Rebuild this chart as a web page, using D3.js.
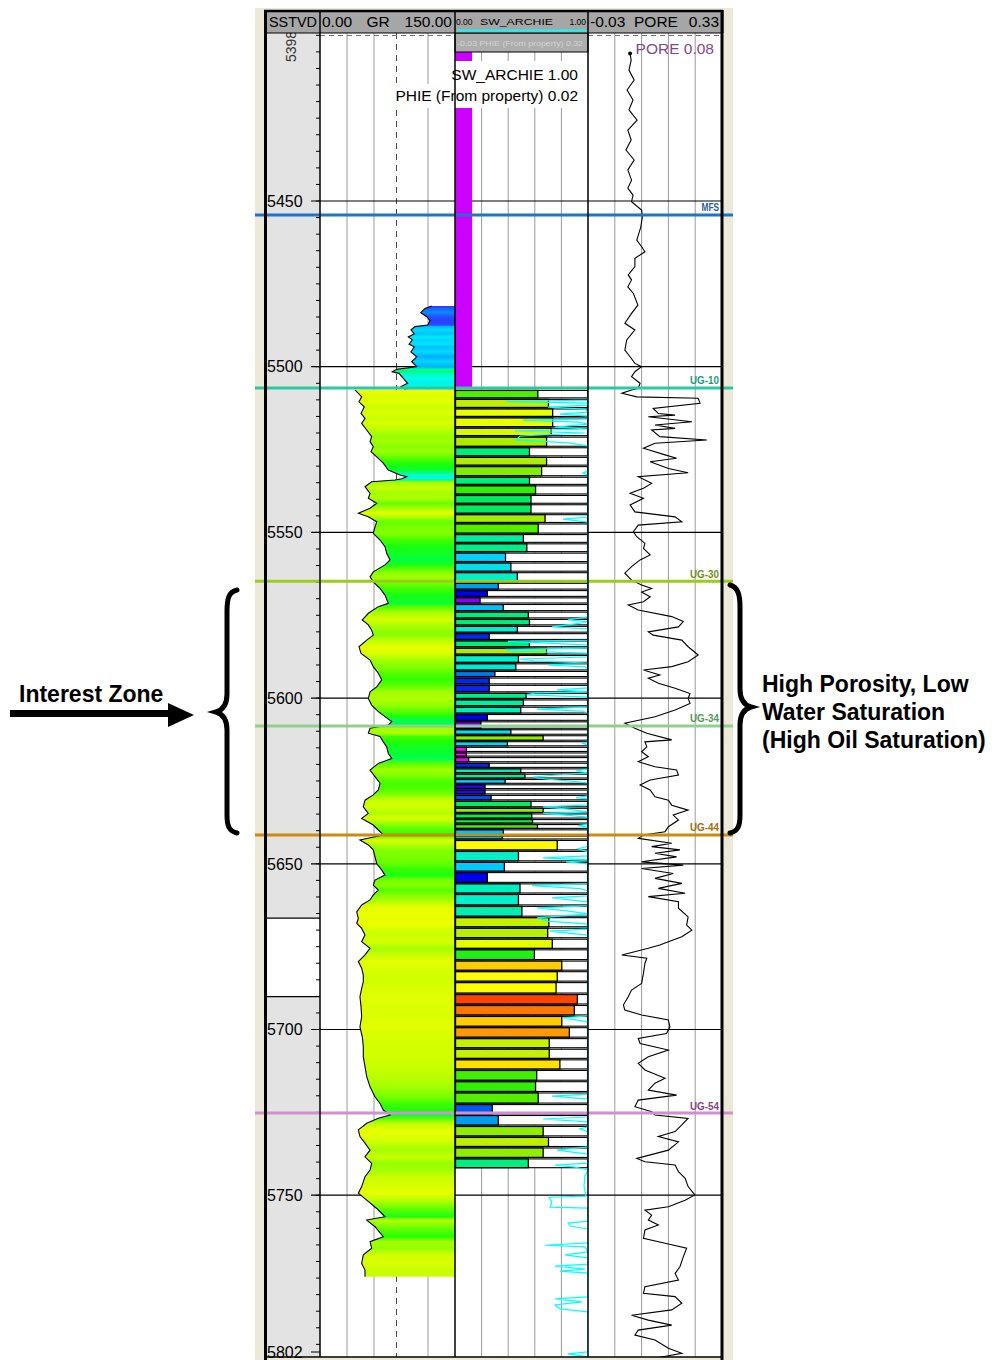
<!DOCTYPE html>
<html><head><meta charset="utf-8">
<script src="https://cdn.jsdelivr.net/npm/d3@7"></script>
<style>body{margin:0;background:#fff;} svg{display:block;font-family:"Liberation Sans",Arial,sans-serif;}</style>
</head><body>
<svg id="chart" width="1002" height="1360"></svg>
<script>
// ---------------- DATA ----------------
const depthLabels = [5450,5500,5550,5600,5650,5700,5750];
const topDepthText = "5398", bottomDepthText = "5802";
const whiteInterval = [5666.4, 5690.1];

const topNames  = ["MFS","UG-10","UG-30","UG-34","UG-44","UG-54"];
const topDepths = [5454.2, 5506.4, 5564.7, 5608.4, 5641.3, 5725.2];

// GR (depth, API)
const grUpper = [[5481.7,124.1],[5482.4,116.7],[5483.7,111.9],[5484.9,118.6],[5486.1,122.2],[5487.4,119.7],[5487.9,105.6],[5488.9,101.1],[5490.1,104.8],[5491.0,98.1],[5491.9,102.6],[5493.2,98.9],[5494.0,104.8],[5495.5,101.1],[5497.0,107.4],[5498.5,101.9],[5500.0,107.4],[5500.8,85.2],[5501.5,80.3],[5502.0,87.8],[5503.5,92.6],[5505.0,97.4],[5506.0,90.0],[5506.9,95.0]];
const grLowerDepth = [5507.0,5509.1,5510.6,5512.1,5514.1,5515.6,5517.1,5519.1,5521.1,5522.6,5524.1,5525.6,5527.2,5529.1,5531.2,5532.7,5533.2,5533.8,5534.2,5534.7,5536.2,5538.2,5539.7,5541.2,5542.7,5544.2,5545.3,5546.8,5548.3,5550.3,5552.3,5554.3,5556.3,5558.3,5559.8,5561.9,5563.4,5564.9,5566.9,5568.9,5571.4,5572.4,5574.4,5576.4,5577.9,5579.5,5581.0,5582.5,5584.5,5586.5,5588.5,5590.5,5592.5,5594.5,5596.6,5598.1,5600.1,5602.1,5604.1,5605.6,5607.1,5608.1,5609.1,5610.6,5611.6,5613.2,5614.7,5616.7,5618.2,5619.7,5621.7,5623.7,5625.7,5627.7,5629.2,5630.8,5632.8,5634.8,5636.3,5638.3,5639.8,5641.3,5642.8,5644.3,5645.8,5647.9,5649.9,5651.9,5653.4,5654.9,5656.4,5657.9,5659.4,5660.9,5662.4,5664.5,5666.5,5668.0,5669.5,5671.5,5673.5,5675.5,5677.5,5679.5,5681.5,5683.6,5685.6,5687.6,5690.1,5693.1,5696.1,5699.2,5702.2,5705.2,5708.2,5711.2,5714.2,5717.3,5720.3,5722.3,5724.3,5725.8,5726.8,5728.3,5730.3,5732.3,5734.3,5736.4,5738.4,5740.4,5742.4,5744.4,5747.4,5749.4,5751.5,5754.0,5756.5,5757.5,5759.5,5762.5,5764.0,5766.0,5768.0,5770.6,5772.6,5774.6];
const grLowerValue = [38.9,46.3,43.3,49.2,45.6,50.0,46.3,51.9,57.4,55.6,59.2,56.7,63.0,70.3,75.9,88.9,96.3,90.8,83.3,57.4,50.0,55.6,53.7,63.0,55.6,42.6,53.7,63.0,61.1,59.2,66.7,72.2,74.1,77.8,72.2,59.2,55.6,59.2,66.7,72.2,75.9,64.8,53.7,47.0,53.7,57.4,59.2,51.9,43.3,45.6,55.6,59.2,64.8,68.6,63.0,55.6,53.7,57.4,64.8,72.2,79.7,75.9,55.6,53.7,66.7,70.3,74.1,75.9,79.7,64.8,55.6,61.1,66.7,64.8,59.2,50.0,48.1,53.7,46.3,59.2,64.8,70.3,44.4,53.7,59.2,61.1,63.0,68.6,72.2,61.1,59.2,64.8,59.2,55.6,46.3,40.8,42.6,40.8,46.3,50.0,46.3,55.6,50.0,42.6,46.3,48.1,48.1,46.3,44.4,45.6,46.3,44.4,47.0,48.1,48.1,50.0,51.9,55.6,61.1,66.7,70.3,77.8,64.8,51.9,42.6,44.4,50.0,55.6,50.0,57.4,55.6,50.0,46.3,42.6,51.9,63.0,72.2,51.9,61.1,70.3,55.6,57.4,48.1,46.3,50.0,50.0];
const grCutoff = 85;

// PHIE upper single cell and layer cells (tops incl. final base)
const phieUpperCell = {top:5405.0, base:5506.4, value:0.015};
const layerTops = [5507.0,5509.7,5512.6,5515.3,5518.4,5521.1,5524.3,5527.2,5530.0,5533.2,
5535.8,5538.7,5541.5,5544.5,5547.3,5550.5,5553.3,5556.1,5559.1,5562.0,
5565.2,5567.4,5569.6,5571.6,5573.9,5576.1,5578.2,5580.4,5582.6,5584.8,
5587.0,5589.5,5591.8,5593.8,5596.0,5598.4,5600.4,5602.6,5604.8,5607.0,
5609.4,5611.2,5613.0,5614.7,5616.4,5617.8,5619.5,5621.2,5622.8,5624.4,
5626.0,5627.6,5629.2,5631.0,5633.1,5634.8,5636.5,5638.0,5639.6,5641.5,
5642.8,5646.1,5649.4,5652.5,5655.9,5659.1,5662.7,5666.1,5669.3,5672.6,
5675.8,5679.2,5682.4,5685.7,5689.3,5692.6,5695.9,5699.3,5702.6,5705.8,
5709.0,5712.2,5715.6,5719.0,5722.5,5725.8,5729.1,5732.4,5735.6,5738.9,
5742.0];
const layerPhie = [0.188,0.216,0.227,0.227,0.223,0.211,0.166,0.211,0.198,0.166,
0.182,0.170,0.170,0.207,0.189,0.150,0.159,0.103,0.117,0.134,
0.084,0.055,0.036,0.097,0.163,0.166,0.134,0.060,0.166,0.211,
0.137,0.130,0.075,0.060,0.060,0.157,0.150,0.143,0.055,0.038,
0.117,0.202,0.108,0.000,0.000,0.006,0.060,0.143,0.154,0.102,
0.049,0.049,0.065,0.170,0.202,0.172,0.174,0.187,0.097,0.094,
0.239,0.137,0.100,0.055,0.141,0.137,0.146,0.217,0.214,0.226,
0.179,0.251,0.239,0.236,0.292,0.284,0.251,0.271,0.218,0.218,
0.246,0.185,0.182,0.189,0.068,0.084,0.202,0.216,0.202,0.163];

// SW_ARCHIE (depth, fraction)
const swArchie = [[5507.6,1],[5510.1,1],[5510.5,0.383],[5511.0,1],[5511.6,1],[5512.2,0.699],[5512.8,0.977],[5513.7,1],[5514.3,0.789],[5514.9,1],[5515.8,1],[5516.1,0.511],[5516.7,0.925],[5517.3,1],[5518.2,0.752],[5518.8,1],[5519.4,0.451],[5520.0,0.977],[5520.9,0.489],[5522.1,0.459],[5523.0,0.85],[5523.9,1],[5531.5,1],[5532.1,0.962],[5532.7,1],[5545.4,1],[5546.0,0.812],[5546.9,1],[5575.5,1],[5576.4,0.85],[5577.0,1],[5577.6,0.902],[5578.5,0.729],[5579.1,1],[5582.5,1],[5582.9,0.398],[5583.4,0.699],[5584.0,1],[5584.9,1],[5585.3,0.376],[5585.8,0.451],[5586.4,1],[5587.6,1],[5588.2,0.489],[5588.8,0.602],[5589.4,1],[5590.0,0.699],[5590.6,0.977],[5591.2,1],[5596.9,1],[5597.5,0.767],[5598.1,1],[5598.4,0.602],[5599.0,0.541],[5599.7,1],[5602.7,1],[5603.3,0.617],[5603.9,0.955],[5604.5,1],[5613.2,1],[5613.7,0.962],[5614.2,1],[5621.4,1],[5622.0,0.91],[5622.6,1],[5623.2,0.767],[5623.8,0.586],[5624.4,0.677],[5625.0,0.85],[5625.6,1],[5629.5,1],[5630.0,0.91],[5630.4,1],[5632.2,1],[5632.8,0.662],[5633.5,0.85],[5634.4,1],[5634.7,0.662],[5635.3,0.827],[5635.9,1],[5638.0,1],[5638.5,0.925],[5638.9,1],[5644.7,1],[5645.5,0.925],[5646.4,1],[5647.6,1],[5648.2,0.662],[5648.8,1],[5649.4,0.835],[5650.0,1],[5656.0,1],[5656.6,0.579],[5657.5,0.94],[5658.2,1],[5659.7,1],[5660.3,0.729],[5661.5,1],[5662.7,1],[5663.3,0.617],[5664.2,0.842],[5665.1,1],[5666.3,0.617],[5667.3,0.699],[5668.2,1],[5669.7,1],[5670.3,0.714],[5671.5,1],[5695.9,1],[5696.5,0.812],[5697.7,1],[5719.5,1],[5720.1,0.729],[5721.0,1],[5726.4,1],[5727.0,0.662],[5727.9,1],[5729.4,1],[5730.0,0.94],[5730.9,1],[5735.4,1],[5736.4,0.767],[5737.6,1],[5740.3,1],[5740.9,0.752],[5741.5,0.902],[5742.4,1],[5744.2,0.977],[5747.2,0.97],[5750.3,0.985],[5750.6,0.707],[5752.1,0.729],[5753.6,0.714],[5753.9,1],[5757.8,1],[5758.4,0.85],[5759.3,0.865],[5760.2,1],[5764.4,1],[5765.1,0.677],[5765.6,0.977],[5767.1,1],[5768.0,0.827],[5768.9,1],[5770.8,1],[5771.4,0.752],[5772.3,0.977],[5772.9,0.789],[5773.5,1],[5780.7,1],[5781.3,0.752],[5782.2,0.955],[5783.1,0.752],[5784.3,0.789],[5785.2,1],[5797.3,1],[5797.9,0.85],[5798.8,1]];

// PORE (depth, fraction)
const pore = [[5405.5,0.083],[5407.5,0.086],[5410.5,0.080],[5413.5,0.094],[5416.5,0.075],[5419.5,0.091],[5422.5,0.080],[5425.6,0.102],[5428.6,0.077],[5431.6,0.086],[5434.6,0.072],[5437.6,0.094],[5440.6,0.077],[5443.7,0.087],[5446.1,0.077],[5448.2,0.091],[5450.2,0.087],[5452.7,0.114],[5454.7,0.116],[5457.8,0.112],[5461.8,0.101],[5463.8,0.114],[5465.3,0.123],[5467.3,0.096],[5469.8,0.096],[5472.3,0.078],[5473.8,0.087],[5475.9,0.077],[5477.9,0.092],[5481.4,0.104],[5483.9,0.087],[5486.9,0.069],[5488.9,0.096],[5491.9,0.074],[5495.0,0.069],[5497.0,0.083],[5499.0,0.096],[5500.0,0.114],[5501.5,0.096],[5503.0,0.087],[5505.0,0.110],[5506.5,0.105],[5507.0,0.087],[5508.0,0.061],[5509.1,0.101],[5509.5,0.266],[5511.0,0.271],[5512.6,0.145],[5514.1,0.159],[5514.6,0.204],[5515.1,0.132],[5516.6,0.249],[5517.6,0.150],[5518.6,0.204],[5519.1,0.141],[5521.1,0.163],[5522.1,0.289],[5523.1,0.150],[5524.6,0.119],[5526.6,0.177],[5527.6,0.208],[5528.7,0.137],[5530.7,0.186],[5532.0,0.239],[5533.2,0.105],[5535.2,0.141],[5536.7,0.119],[5538.2,0.083],[5539.7,0.119],[5541.7,0.083],[5543.8,0.096],[5545.3,0.204],[5546.8,0.222],[5547.8,0.105],[5549.8,0.092],[5551.3,0.101],[5553.3,0.123],[5554.8,0.119],[5556.8,0.137],[5558.3,0.110],[5560.3,0.087],[5562.3,0.069],[5564.4,0.087],[5565.9,0.114],[5566.9,0.141],[5568.0,0.114],[5569.4,0.137],[5570.9,0.119],[5571.9,0.078],[5573.4,0.105],[5575.4,0.195],[5576.9,0.226],[5578.5,0.213],[5580.0,0.132],[5581.0,0.145],[5582.5,0.222],[5584.5,0.239],[5587.0,0.266],[5589.0,0.239],[5590.5,0.195],[5591.5,0.119],[5593.0,0.163],[5594.0,0.132],[5595.5,0.159],[5597.0,0.204],[5598.6,0.244],[5600.1,0.239],[5601.6,0.244],[5603.6,0.204],[5605.6,0.150],[5607.6,0.069],[5609.1,0.096],[5610.6,0.128],[5612.6,0.195],[5613.2,0.123],[5614.7,0.128],[5616.2,0.114],[5617.7,0.132],[5619.2,0.105],[5620.7,0.150],[5621.7,0.208],[5623.2,0.213],[5624.7,0.137],[5626.2,0.110],[5627.7,0.137],[5629.8,0.150],[5630.8,0.186],[5632.3,0.195],[5633.8,0.239],[5635.3,0.199],[5636.8,0.213],[5638.8,0.186],[5640.3,0.177],[5641.3,0.119],[5642.3,0.105],[5643.8,0.195],[5644.8,0.141],[5645.8,0.217],[5646.8,0.150],[5647.9,0.208],[5649.4,0.114],[5650.4,0.226],[5651.4,0.114],[5652.9,0.199],[5654.4,0.150],[5655.9,0.222],[5657.4,0.159],[5658.9,0.231],[5659.9,0.132],[5661.4,0.213],[5663.4,0.213],[5666.0,0.239],[5668.5,0.235],[5670.0,0.249],[5672.0,0.222],[5673.5,0.186],[5674.5,0.163],[5675.5,0.132],[5677.5,0.061],[5678.5,0.128],[5680.0,0.123],[5683.0,0.119],[5686.1,0.114],[5688.1,0.087],[5690.1,0.078],[5692.6,0.065],[5694.1,0.069],[5695.6,0.114],[5697.1,0.186],[5699.2,0.190],[5701.2,0.181],[5702.7,0.105],[5704.2,0.110],[5706.2,0.186],[5708.2,0.132],[5710.2,0.105],[5712.2,0.123],[5714.7,0.177],[5716.2,0.150],[5718.3,0.132],[5719.8,0.208],[5721.3,0.105],[5723.3,0.096],[5724.8,0.141],[5725.8,0.150],[5726.8,0.239],[5728.8,0.222],[5730.8,0.204],[5732.3,0.159],[5733.9,0.213],[5736.4,0.186],[5738.9,0.101],[5739.9,0.123],[5740.9,0.204],[5742.9,0.213],[5744.9,0.231],[5747.4,0.239],[5749.9,0.257],[5751.5,0.231],[5753.5,0.186],[5754.5,0.123],[5756.0,0.141],[5757.5,0.132],[5759.0,0.159],[5760.5,0.123],[5763.0,0.119],[5764.5,0.177],[5766.0,0.235],[5768.6,0.226],[5771.6,0.217],[5773.6,0.204],[5775.6,0.213],[5777.6,0.123],[5779.6,0.119],[5780.6,0.204],[5782.6,0.222],[5784.6,0.195],[5786.2,0.087],[5787.7,0.132],[5789.2,0.195],[5790.7,0.105],[5792.2,0.096],[5793.7,0.150],[5796.2,0.186],[5797.7,0.222],[5799.2,0.150]];

// ---------------- STYLE / LAYOUT ----------------
const topLineColors  = ["#1c74cc","#2ec8a0","#9acd1a","#8fd08f","#cc8a10","#d090d0"];
const topLabelColors = ["#2a5d9a","#1e9c7a","#6f8f1e","#4f9a4f","#a26c0a","#8a3f8a"];
const grColor = d3.scaleLinear()
  .domain([38,45,50,56,62,70,78,86,94,102,110,118,124])
  .range(["#f4ff00","#dfff00","#c8ff00","#a0ff00","#70ff00","#22ff00","#00ff44","#00ffb0","#00ffee","#00d8ff","#0099ff","#2255ff","#3333ff"])
  .clamp(true);
const phieColor = d3.scaleLinear()
  .domain([0.0,0.036,0.055,0.065,0.085,0.102,0.135,0.152,0.166,0.172,0.182,0.20,0.215,0.227,0.238,0.251,0.271,0.284,0.292])
  .range(["#ff00ff","#8800ff","#0000ee","#0050ee","#00a0ee","#00d0ff","#00f0d0","#00ee99","#00ee77","#00ee50","#33ee00","#88ee00","#bbee00","#e8ff00","#ffff00","#ffcc00","#ff9900","#ff7700","#ff4400"])
  .clamp(true);

const svg = d3.select("#chart");
const defs = svg.append("defs");
const TR = {depth:[265,320], gr:[320,455], sw:[455,588], pore:[588,722]};
const Y0 = 33, Y1 = 1357;

const y = d3.scaleLinear().domain([5399.3, 5799]).range([33, 1357.6]);
const xGR = d3.scaleLinear().domain([0,150]).range(TR.gr);
const xPHIE = d3.scaleLinear().domain([-0.03,0.32]).range(TR.sw);
const xSW = d3.scaleLinear().domain([0,1]).range(TR.sw);
const xPORE = d3.scaleLinear().domain([-0.03,0.33]).range(TR.pore);

function clip(id, x0, x1){
  defs.append("clipPath").attr("id",id).append("rect").attr("x",x0).attr("y",Y0).attr("width",x1-x0).attr("height",Y1-Y0);
}
clip("cGR",...TR.gr); clip("cSW",...TR.sw); clip("cPORE",...TR.pore);

// panel background
svg.append("rect").attr("x",255).attr("y",8).attr("width",478).attr("height",1352).attr("fill","#ece9d8");
svg.append("rect").attr("x",TR.depth[0]).attr("y",Y0).attr("width",55).attr("height",Y1-Y0).attr("fill","#e3e3e3");
svg.append("rect").attr("x",320).attr("y",Y0).attr("width",402).attr("height",Y1-Y0).attr("fill","#fff");
// white interval in depth track
svg.append("rect").attr("x",265).attr("y",y(whiteInterval[0])).attr("width",55)
  .attr("height",y(whiteInterval[1])-y(whiteInterval[0])).attr("fill","#fff");
whiteInterval.forEach(d=>svg.append("line").attr("x1",265).attr("x2",320).attr("y1",y(d)).attr("y2",y(d)).attr("stroke","#000").attr("stroke-width",1.2));

// vertical grid
const grid = svg.append("g").attr("stroke","#9a9a9a").attr("stroke-width",1);
[30,60,120].forEach(v=>grid.append("line").attr("x1",xGR(v)).attr("x2",xGR(v)).attr("y1",Y0).attr("y2",Y1));
[0.2,0.4,0.6,0.8].forEach(v=>grid.append("line").attr("x1",xSW(v)).attr("x2",xSW(v)).attr("y1",Y0).attr("y2",Y1));
[0.042,0.114,0.186,0.258].forEach(v=>grid.append("line").attr("x1",xPORE(v)).attr("x2",xPORE(v)).attr("y1",Y0).attr("y2",Y1));
svg.append("line").attr("x1",xGR(grCutoff)).attr("x2",xGR(grCutoff)).attr("y1",Y0).attr("y2",Y1)
  .attr("stroke","#444").attr("stroke-width",1).attr("stroke-dasharray","6,5");
// dashed top line
[[320,455],[588,722]].forEach(r=>svg.append("line").attr("x1",r[0]).attr("x2",r[1]).attr("y1",35.5).attr("y2",35.5)
  .attr("stroke","#777").attr("stroke-width",1).attr("stroke-dasharray","5,4"));

// depth ticks and major lines
d3.range(5400,5800,5).forEach(d=>{
  svg.append("line").attr("x1",316).attr("x2",320).attr("y1",y(d)).attr("y2",y(d)).attr("stroke","#000");
});
depthLabels.forEach(d=>{
  svg.append("line").attr("x1",311).attr("x2",722).attr("y1",y(d)).attr("y2",y(d)).attr("stroke","#000").attr("stroke-width",1.2);
  svg.append("text").attr("x",267).attr("y",y(d)).attr("dy","0.36em").attr("font-size",16).attr("fill","#000").text(d);
});
svg.append("text").attr("transform",`translate(296,62) rotate(-90)`).attr("font-size",14).attr("fill","#333").text(topDepthText);
svg.append("line").attr("x1",311).attr("x2",320).attr("y1",1352).attr("y2",1352).attr("stroke","#000");
svg.append("text").attr("x",267).attr("y",1352).attr("dy","0.36em").attr("font-size",16).text(bottomDepthText);

// GR fills
const grLower = grLowerDepth.map((d,i)=>[d,grLowerValue[i]]);
function grFill(pts,id){
  const ya=y(pts[0][0]), yb=y(pts[pts.length-1][0]);
  const g = defs.append("linearGradient").attr("id",id).attr("gradientUnits","userSpaceOnUse")
    .attr("x1",0).attr("x2",0).attr("y1",ya).attr("y2",yb);
  pts.forEach(p=>g.append("stop").attr("offset",(y(p[0])-ya)/(yb-ya)).attr("stop-color",grColor(p[1])));
  const area = d3.area().y(p=>y(p[0])).x0(p=>xGR(p[1])).x1(xGR(150));
  const gg = svg.append("g").attr("clip-path","url(#cGR)");
  gg.append("path").attr("d",area(pts)).attr("fill",`url(#${id})`);
  gg.append("path").attr("d",d3.line().x(p=>xGR(p[1])).y(p=>y(p[0]))(pts)).attr("fill","none").attr("stroke","#000").attr("stroke-width",1.1);
}
grFill(grUpper,"gU"); grFill(grLower,"gL");

// PHIE upper cell
svg.append("rect").attr("x",xPHIE(-0.03)).attr("y",y(phieUpperCell.top))
  .attr("width",xPHIE(phieUpperCell.value)-xPHIE(-0.03)).attr("height",y(phieUpperCell.base)-y(phieUpperCell.top))
  .attr("fill","#cc00ff");

// layer cells
const cells = svg.append("g");
layerPhie.forEach((v,i)=>{
  const t=y(layerTops[i])+0.5, b=y(layerTops[i+1])-1;
  cells.append("rect").attr("x",455.5).attr("y",t).attr("width",132).attr("height",b-t)
    .attr("fill","#fff").attr("stroke","#000").attr("stroke-width",1.1);
  cells.append("rect").attr("x",455.5).attr("y",t).attr("width",Math.max(0,xPHIE(v)-455.5)).attr("height",b-t)
    .attr("fill",phieColor(v)).attr("stroke","#000").attr("stroke-width",1.3);
});

// SW curve
svg.append("g").attr("clip-path","url(#cSW)").append("path")
  .attr("d",d3.line().x(p=>xSW(Math.min(1,p[1]))).y(p=>y(p[0]))(swArchie))
  .attr("fill","none").attr("stroke","#00ffff").attr("stroke-width",1.2);

// PORE curve
svg.append("g").attr("clip-path","url(#cPORE)").append("path")
  .attr("d",d3.line().x(p=>xPORE(p[1])).y(p=>y(p[0]))(pore))
  .attr("fill","none").attr("stroke","#000").attr("stroke-width",1.1);
svg.append("circle").attr("cx",xPORE(pore[0][1])).attr("cy",y(pore[0][0])).attr("r",2).attr("fill","#000");
svg.append("text").attr("x",714).attr("y",54).attr("text-anchor","end").attr("font-size",15.5).attr("fill","#7e4a86").text("PORE 0.08");

// label boxes
svg.append("rect").attr("x",449).attr("y",61).attr("width",138).attr("height",24).attr("fill","#fff");
svg.append("rect").attr("x",388).attr("y",84).attr("width",199).attr("height",24).attr("fill","#fff");
svg.append("text").attr("x",578).attr("y",80).attr("text-anchor","end").attr("font-size",15.5).text("SW_ARCHIE 1.00");
svg.append("text").attr("x",578).attr("y",101).attr("text-anchor","end").attr("font-size",15.5).text("PHIE (From property) 0.02");

// PHIE sub-header
svg.append("rect").attr("x",455).attr("y",33).attr("width",133).attr("height",19).attr("fill","#adadad").attr("stroke","#000").attr("stroke-width",1);
svg.append("text").attr("x",457).attr("y",46).attr("font-size",7.5).attr("fill","#d4d4d4")
  .attr("textLength",126).attr("lengthAdjust","spacingAndGlyphs").text("-0.03 PHIE (From property) 0.32");

// formation tops
topNames.forEach((n,i)=>{
  const yy=y(topDepths[i]);
  svg.append("line").attr("x1",255).attr("x2",733).attr("y1",yy).attr("y2",yy).attr("stroke",topLineColors[i]).attr("stroke-width",3);
  svg.append("text").attr("x",719).attr("y",yy-3.5).attr("text-anchor","end").attr("font-size",10).attr("font-weight","bold")
    .attr("fill",topLabelColors[i]).attr("textLength",n.length*5.8).attr("lengthAdjust","spacingAndGlyphs").text(n);
});

// borders
[320,455,588].forEach(x=>svg.append("line").attr("x1",x).attr("x2",x).attr("y1",10).attr("y2",Y1).attr("stroke","#000").attr("stroke-width",1.5));
[265.5,722].forEach(x=>svg.append("line").attr("x1",x).attr("x2",x).attr("y1",10).attr("y2",1360).attr("stroke","#000").attr("stroke-width",3));
svg.append("line").attr("x1",265).attr("x2",722).attr("y1",Y1).attr("y2",Y1).attr("stroke","#000").attr("stroke-width",1.5);

// header
const hd = svg.append("g");
hd.append("rect").attr("x",265).attr("y",10).attr("width",457).attr("height",23).attr("fill","#a6a6a6");
hd.append("line").attr("x1",264).attr("x2",723).attr("y1",11).attr("y2",11).attr("stroke","#000").attr("stroke-width",2.5);
hd.append("line").attr("x1",264).attr("x2",723).attr("y1",33).attr("y2",33).attr("stroke","#000").attr("stroke-width",1.2);
[320,455,588].forEach(x=>hd.append("line").attr("x1",x).attr("x2",x).attr("y1",10).attr("y2",33).attr("stroke","#000").attr("stroke-width",1.5));
[265.5,722].forEach(x=>hd.append("line").attr("x1",x).attr("x2",x).attr("y1",10).attr("y2",33).attr("stroke","#000").attr("stroke-width",3));
const hf = 15.5;
hd.append("text").attr("x",269).attr("y",27).attr("font-size",hf).attr("textLength",48).attr("lengthAdjust","spacingAndGlyphs").text("SSTVD");
hd.append("text").attr("x",322).attr("y",27).attr("font-size",hf).text("0.00");
hd.append("text").attr("x",378).attr("y",27).attr("font-size",hf).attr("text-anchor","middle").text("GR");
hd.append("text").attr("x",452).attr("y",27).attr("font-size",hf).attr("text-anchor","end").text("150.00");
hd.append("text").attr("x",456).attr("y",25).attr("font-size",8.5).text("0.00");
hd.append("text").attr("x",480).attr("y",25).attr("font-size",9).attr("textLength",73).attr("lengthAdjust","spacingAndGlyphs").text("SW_ARCHIE");
hd.append("text").attr("x",586).attr("y",25).attr("font-size",8.5).attr("text-anchor","end").text("1.00");
hd.append("line").attr("x1",457).attr("x2",586).attr("y1",30.5).attr("y2",30.5).attr("stroke","#00ffff").attr("stroke-width",2);
hd.append("text").attr("x",590).attr("y",27).attr("font-size",hf).text("-0.03");
hd.append("text").attr("x",656).attr("y",27).attr("font-size",hf).attr("text-anchor","middle").text("PORE");
hd.append("text").attr("x",719).attr("y",27).attr("font-size",hf).attr("text-anchor","end").text("0.33");

// annotations
const an = svg.append("g");
an.append("text").attr("x",19).attr("y",702).attr("font-size",23).attr("font-weight","bold").text("Interest Zone");
an.append("rect").attr("x",10).attr("y",710).attr("width",162).attr("height",7).attr("fill","#000");
an.append("path").attr("d","M168,703 L194,715 L168,727 Z").attr("fill","#000");
an.append("path").attr("d","M237,590 C228,592 227,600 227,612 L227,694 C227,705 223,710 216,712 C223,714 227,719 227,730 L227,815 C227,826 229,831 237,833")
  .attr("fill","none").attr("stroke","#000").attr("stroke-width",5).attr("stroke-linecap","round");
an.append("path").attr("d","M730,585 C738,587 740,595 740,607 L740,689 C740,700 744,705 751,707 C744,709 740,714 740,725 L740,815 C740,826 738,831 730,833")
  .attr("fill","none").attr("stroke","#000").attr("stroke-width",5).attr("stroke-linecap","round");
["High Porosity, Low","Water Saturation","(High Oil Saturation)"].forEach((t,i)=>
  an.append("text").attr("x",762).attr("y",692+i*28).attr("font-size",23).attr("font-weight","bold").text(t));
</script>
</body></html>
